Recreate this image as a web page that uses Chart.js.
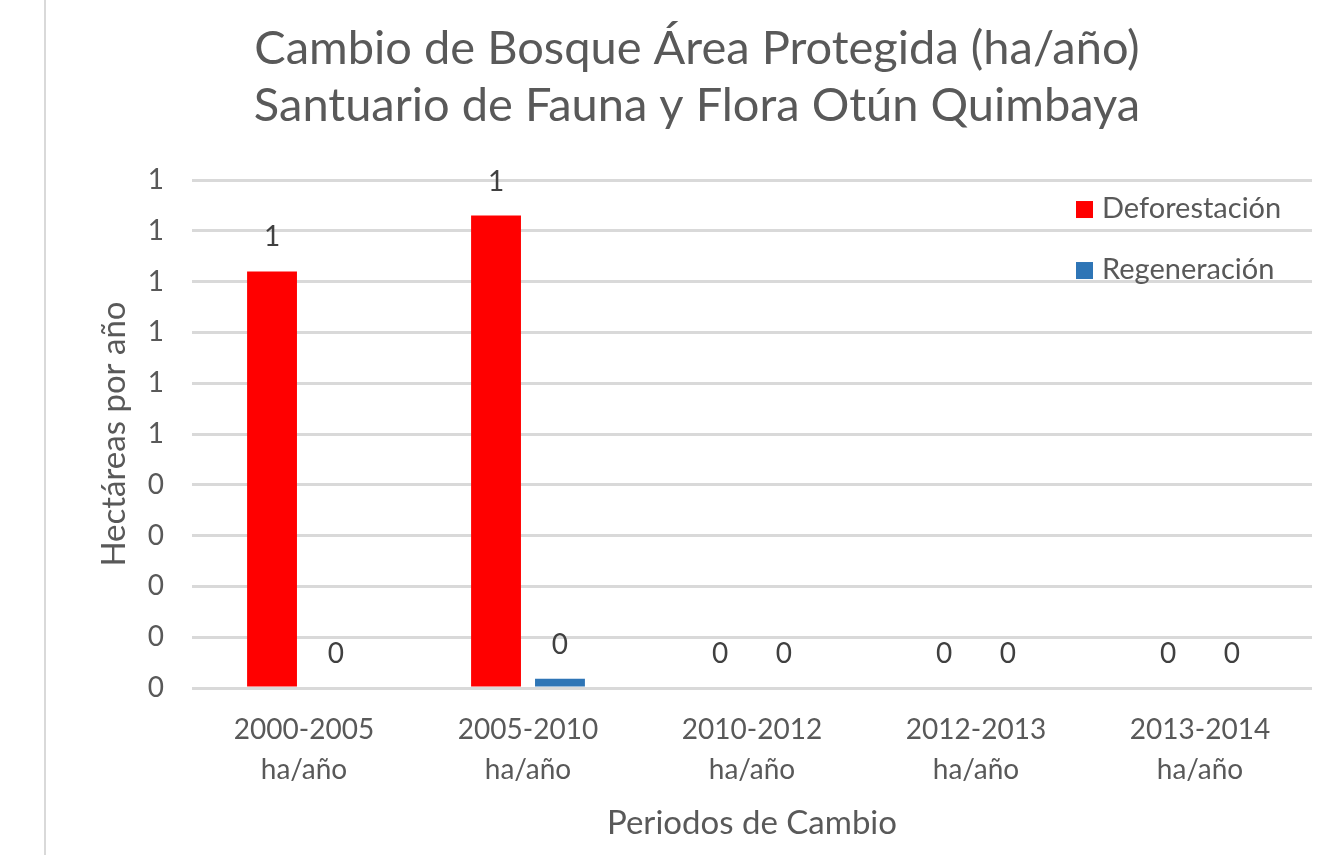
<!DOCTYPE html>
<html>
<head>
<meta charset="utf-8">
<script src="https://cdn.jsdelivr.net/npm/chart.js@4/dist/chart.umd.min.js"></script>
<style>
    html, body { margin: 0; padding: 0; background: #fff; }
    #edge { position: absolute; left: 44px; top: 0; width: 2px; height: 855px; background: #d9d9d9; }
    #wrap { position: absolute; left: 47px; top: 0; width: 1289px; height: 855px; }
</style>
</head>
<body>
<div id="edge"></div>
<div id="wrap"><canvas id="chart"></canvas></div>
<script>
// Chart data
const periods = [
    ['2000-2005', 'ha/año'],
    ['2005-2010', 'ha/año'],
    ['2010-2012', 'ha/año'],
    ['2012-2013', 'ha/año'],
    ['2013-2014', 'ha/año']
];
const deforestacion = [0.82, 0.93, 0, 0, 0];
const regeneracion = [0, 0.018, 0, 0, 0];

const FONT = "Lato, 'Open Sans', sans-serif";
const GRAY = '#595959';

// Value labels above each bar (rounded like the original)
const valueLabels = {
    id: 'valueLabels',
    afterDatasetsDraw(chart) {
        const ctx = chart.ctx;
        ctx.save();
        ctx.font = `28px ${FONT}`;
        ctx.fillStyle = '#404040';
        ctx.textAlign = 'center';
        ctx.textBaseline = 'middle';
        chart.data.datasets.forEach((ds, i) => {
            const meta = chart.getDatasetMeta(i);
            meta.data.forEach((bar, j) => {
                ctx.fillText(Math.round(ds.data[j]).toString(), bar.x, bar.y - 34);
            });
        });
        ctx.restore();
    }
};

// Legend drawn inside the plot, top right
const insideLegend = {
    id: 'insideLegend',
    afterDraw(chart) {
        const ctx = chart.ctx;
        const area = chart.chartArea;
        ctx.save();
        ctx.font = `29px ${FONT}`;
        ctx.textBaseline = 'middle';
        ctx.textAlign = 'left';
        chart.data.datasets.forEach((ds, i) => {
            const x = area.right - 236;
            const y = area.top + 29 + i * 61;
            ctx.fillStyle = ds.backgroundColor;
            ctx.fillRect(x, y - 8, 17, 17);
            ctx.fillStyle = GRAY;
            ctx.fillText(ds.label, x + 26, y);
        });
        ctx.restore();
    }
};

const ctx = document.getElementById('chart').getContext('2d');
new Chart(ctx, {
    type: 'bar',
    data: {
        labels: periods,
        datasets: [
            {
                label: 'Deforestación',
                data: deforestacion,
                backgroundColor: '#ff0000',
                categoryPercentage: 0.571,
                barPercentage: 0.78
            },
            {
                label: 'Regeneración',
                data: regeneracion,
                backgroundColor: '#2e75b6',
                categoryPercentage: 0.571,
                barPercentage: 0.78
            }
        ]
    },
    options: {
        responsive: true,
        maintainAspectRatio: false,
        animation: false,
        layout: {
            padding: { left: 35, right: 24, top: 0, bottom: 0 }
        },
        plugins: {
            legend: { display: false },
            tooltip: { enabled: false },
            title: {
                display: true,
                text: ['Cambio de Bosque Área Protegida (ha/año)', 'Santuario de Fauna y Flora Otún Quimbaya'],
                color: GRAY,
                font: { family: FONT, size: 47, weight: 'normal', lineHeight: 1.213 },
                padding: { top: 20, bottom: 46 }
            }
        },
        scales: {
            x: {
                grid: { display: false },
                border: { display: false },
                ticks: {
                    color: GRAY,
                    padding: 14,
                    maxRotation: 0,
                    font: { family: FONT, size: 28, lineHeight: 1.43 }
                },
                title: {
                    display: true,
                    text: 'Periodos de Cambio',
                    color: GRAY,
                    font: { family: FONT, size: 33 },
                    padding: { top: 12, bottom: 12 }
                },
                afterFit(scale) { scale.height = 167; }
            },
            y: {
                min: 0,
                max: 1,
                border: { display: false },
                grid: { color: '#d9d9d9', lineWidth: 3, drawTicks: false },
                ticks: {
                    stepSize: 0.1,
                    color: GRAY,
                    padding: 28,
                    font: { family: FONT, size: 28 },
                    callback: v => Math.round(v).toString()
                },
                title: {
                    display: true,
                    text: 'Hectáreas por año',
                    color: GRAY,
                    font: { family: FONT, size: 33 },
                    padding: { top: 13, bottom: 13 }
                },
                afterFit(scale) { scale.width = 110; }
            }
        }
    },
    plugins: [valueLabels, insideLegend]
});
</script>
</body>
</html>
